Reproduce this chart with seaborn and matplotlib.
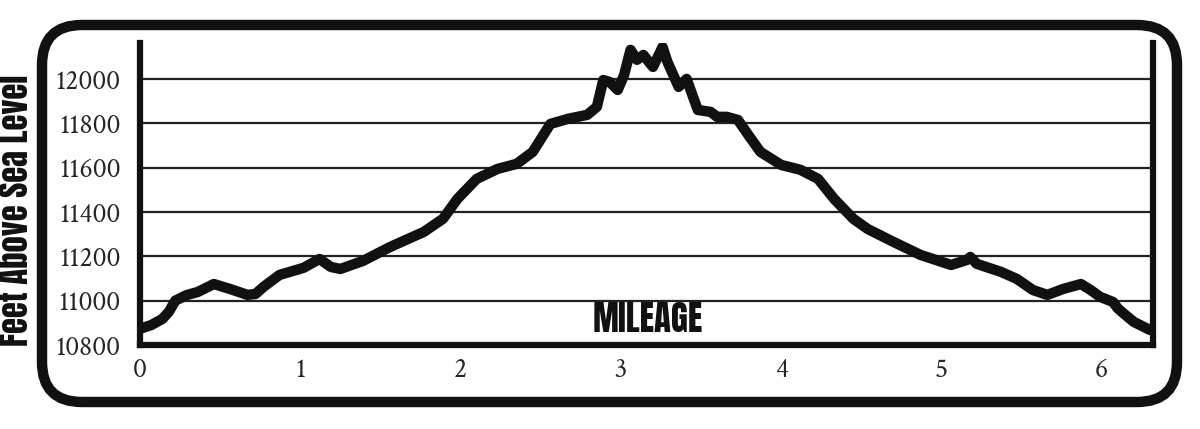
import numpy as np
import pandas as pd
import matplotlib
matplotlib.use("Agg")
import matplotlib.pyplot as plt
from matplotlib.patches import FancyBboxPatch
import seaborn as sns

# Perfil de elevação (milhas, pés)
miles = [0.00, 0.07, 0.14, 0.18, 0.22, 0.29, 0.36, 0.46, 0.56, 0.67,
         0.72, 0.77, 0.87, 1.02, 1.12, 1.19, 1.25, 1.39, 1.56, 1.77,
         1.89, 1.98, 2.10, 2.23, 2.35, 2.45, 2.56, 2.67, 2.73, 2.79,
         2.85, 2.89, 2.93, 2.98, 3.02, 3.06, 3.10, 3.14, 3.20, 3.23,
         3.26, 3.29, 3.36, 3.41, 3.45, 3.48, 3.56, 3.60, 3.66, 3.73,
         3.79, 3.87, 4.00, 4.12, 4.23, 4.33, 4.45, 4.54, 4.70, 4.87,
         5.06, 5.16, 5.18, 5.22, 5.37, 5.47, 5.57, 5.66, 5.76, 5.87,
         5.93, 5.99, 6.07, 6.10, 6.14, 6.20, 6.30]
elevation = [10873, 10890, 10918, 10950, 11000, 11025, 11039, 11075, 11053, 11026,
             11030, 11062, 11116, 11148, 11188, 11152, 11143, 11179, 11242, 11310,
             11369, 11459, 11549, 11594, 11617, 11671, 11797, 11820, 11829, 11838,
             11874, 11995, 11986, 11950, 12018, 12131, 12086, 12108, 12054, 12099,
             12144, 12077, 11964, 12000, 11919, 11860, 11851, 11829, 11829, 11815,
             11752, 11671, 11612, 11590, 11549, 11459, 11369, 11323, 11265, 11206,
             11161, 11184, 11197, 11166, 11130, 11098, 11048, 11026, 11053, 11075,
             11048, 11017, 10994, 10965, 10940, 10904, 10868]

x_ticks = [0, 1, 2, 3, 4, 5, 6]
y_ticks = [10800, 11000, 11200, 11400, 11600, 11800, 12000]

df = pd.DataFrame({"mile": miles, "elev": elevation})

sns.set_style("white")
serif = ["Crimson Text", "Liberation Serif", "DejaVu Serif"]
heavy = ["Anton", "DejaVu Sans"]

fig = plt.figure(figsize=(12, 4.29), dpi=100)

# moldura arredondada
frame = FancyBboxPatch((0.42, 0.27), 11.35, 3.77,
                       boxstyle="round,pad=0,rounding_size=0.4",
                       transform=fig.dpi_scale_trans,
                       fill=False, lw=7.5, ec="#111111")
fig.patches.append(frame)

ax = fig.add_axes([0.1167, 0.1958, 0.8442, 0.704])
sns.lineplot(data=df, x="mile", y="elev", ax=ax, color="#111111", lw=7.5,
             solid_joinstyle="round", solid_capstyle="round", zorder=3)

ax.set_xlim(0, 6.32)
ax.set_ylim(10800, 12162)
ax.set_xticks(x_ticks)
ax.set_xticklabels([str(t) for t in x_ticks], family=serif, fontsize=20)
ax.set_yticks(y_ticks)
ax.set_yticklabels([str(t) for t in y_ticks], family=serif, fontsize=20)
ax.tick_params(axis="x", direction="out", length=7, width=2, color="#111111", pad=2)
ax.tick_params(axis="y", length=0, pad=14)
ax.yaxis.grid(True, color="#222222", lw=1.6)
ax.set_axisbelow(True)

for side in ["left", "right", "bottom"]:
    ax.spines[side].set_visible(True)
    ax.spines[side].set_linewidth(4.5)
    ax.spines[side].set_color("#111111")
ax.spines["top"].set_visible(False)

ax.set_xlabel("")
ax.set_ylabel("")
ax.text(3.17, 10858, "MILEAGE", ha="center", va="baseline",
        family=heavy, fontsize=25, color="#111111", zorder=4)

fig.text(16 / 1200, 1 - 210 / 429, "Feet Above Sea Level", rotation=90,
         ha="center", va="center", family=heavy, fontsize=23.5,
         color="#111111")

fig.savefig("out.png", dpi=100)
